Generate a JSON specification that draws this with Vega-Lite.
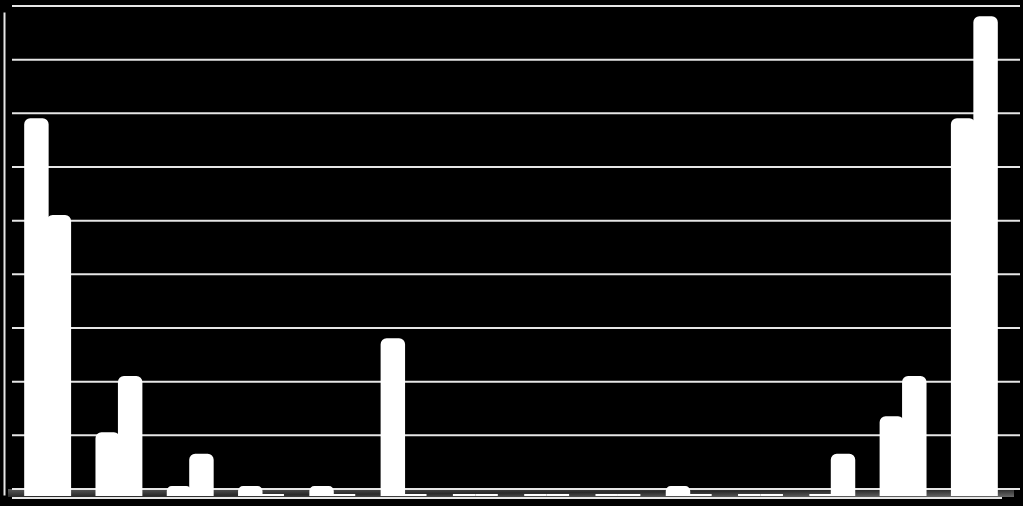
{
  "$schema": "https://vega.github.io/schema/vega-lite/v6.json",
  "width": 998,
  "height": 483,
  "autosize": {"type": "none"},
  "padding": {"left": 12, "top": 12, "right": 13, "bottom": 11},
  "background": "black",
  "config": {"view": {"stroke": null}},
  "datasets": {
    "bars": [
      {"cat": "1", "s": "a", "value": 7.0}, {"cat": "1", "s": "b", "value": 5.2},
      {"cat": "2", "s": "a", "value": 1.15}, {"cat": "2", "s": "b", "value": 2.2},
      {"cat": "3", "s": "a", "value": 0.15}, {"cat": "3", "s": "b", "value": 0.75},
      {"cat": "4", "s": "a", "value": 0.15}, {"cat": "4", "s": "b", "value": 0},
      {"cat": "5", "s": "a", "value": 0.15}, {"cat": "5", "s": "b", "value": 0},
      {"cat": "6", "s": "a", "value": 2.9}, {"cat": "6", "s": "b", "value": 0},
      {"cat": "7", "s": "a", "value": 0}, {"cat": "7", "s": "b", "value": 0},
      {"cat": "8", "s": "a", "value": 0}, {"cat": "8", "s": "b", "value": 0},
      {"cat": "9", "s": "a", "value": 0}, {"cat": "9", "s": "b", "value": 0},
      {"cat": "10", "s": "a", "value": 0.15}, {"cat": "10", "s": "b", "value": 0},
      {"cat": "11", "s": "a", "value": 0}, {"cat": "11", "s": "b", "value": 0},
      {"cat": "12", "s": "a", "value": 0}, {"cat": "12", "s": "b", "value": 0.75},
      {"cat": "13", "s": "a", "value": 1.45}, {"cat": "13", "s": "b", "value": 2.2},
      {"cat": "14", "s": "a", "value": 7.0}, {"cat": "14", "s": "b", "value": 8.9}
    ],
    "grid": [{"v": 0}, {"v": 1}, {"v": 2}, {"v": 3}, {"v": 4}, {"v": 5}, {"v": 6}, {"v": 7}, {"v": 8}, {"v": 9}]
  },
  "resolve": {"scale": {"y": "shared"}},
  "layer": [
    {
      "data": {"values": [{"floor": 0}]},
      "mark": {
        "type": "rect",
        "color": {"gradient": "linear", "x1": 0, "y1": 0, "x2": 1, "y2": 1, "stops": [{"offset": 0, "color": "#5a5a5a"}, {"offset": 0.5, "color": "#2a2a2a"}, {"offset": 1, "color": "#6a6a6a"}]},
        "yOffset": 2,
        "y2Offset": -6,
        "xOffset": -4,
        "x2Offset": 4
      },
      "encoding": {
        "x": {"value": 0},
        "x2": {"value": "width"},
        "y": {"field": "floor", "type": "quantitative", "scale": {"domain": [0, 9]}},
        "y2": {"field": "floor"}
      }
    },
    {
      "data": {"name": "grid"},
      "mark": {"type": "rule", "color": "#e6e6e6", "strokeWidth": 2, "xOffset": 10, "yOffset": -6},
      "encoding": {
        "y": {
          "field": "v",
          "type": "quantitative",
          "scale": {"domain": [0, 9], "nice": false},
          "axis": {"domain": true, "domainColor": "#e6e6e6", "domainWidth": 2, "ticks": false, "labels": false, "grid": false, "offset": 8, "title": null}
        }
      }
    },
    {
      "data": {"values": [{"base": 0}]},
      "mark": {"type": "rule", "color": "#e6e6e6", "strokeWidth": 2, "xOffset": -8, "yOffset": 3},
      "encoding": {
        "y": {"field": "base", "type": "quantitative"}
      }
    },
    {
      "data": {"name": "bars"},
      "mark": {"type": "bar", "fill": "white", "stroke": "white", "strokeWidth": 2, "cornerRadiusTopLeft": 5, "cornerRadiusTopRight": 5},
      "encoding": {
        "x": {"field": "cat", "type": "nominal", "sort": null, "axis": null, "scale": {"paddingInner": 0.37, "paddingOuter": 0.185}},
        "xOffset": {"field": "s", "type": "nominal", "sort": ["a", "b"], "scale": {"paddingInner": 0, "paddingOuter": 0}},
        "y": {"field": "value", "type": "quantitative"}
      }
    }
  ]
}
